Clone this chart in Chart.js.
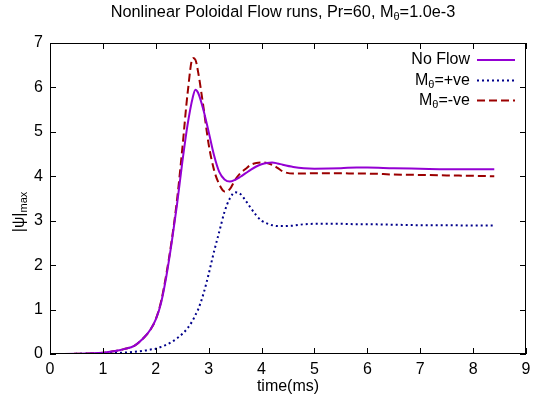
<!DOCTYPE html>
<html>
<head>
<meta charset="utf-8">
<script src="https://cdn.jsdelivr.net/npm/chart.js@4"></script>
<style>
  body { margin: 0; background: #fff; }
  #wrap { width: 533px; height: 400px; }
</style>
</head>
<body>
<div id="wrap"><canvas id="c" width="533" height="400"></canvas></div>
<script>
// time (ms)
const time = [0, 0.5, 1.0, 1.2, 1.4, 1.6, 1.8, 1.9,
  2.0, 2.1, 2.2, 2.3, 2.4, 2.5, 2.6, 2.7, 2.75, 2.8,
  2.9, 3.0, 3.1, 3.2, 3.3, 3.4, 3.5, 3.6, 3.7, 3.8, 3.9, 4.0, 4.1, 4.2, 4.3, 4.4,
  4.6, 4.8, 5.0, 5.5, 5.8, 6.0, 6.5, 7.0, 7.5, 8.0, 8.4];

const noFlow = [0, 0.005, 0.03, 0.06, 0.11, 0.19, 0.4, 0.55,
  0.78, 1.15, 1.75, 2.5, 3.35, 4.3, 5.15, 5.78, 5.95, 5.88,
  5.5, 5.0, 4.48, 4.1, 3.93, 3.88, 3.92, 3.99, 4.07, 4.15, 4.22, 4.27, 4.3, 4.31, 4.29, 4.26,
  4.21, 4.18, 4.17, 4.18, 4.2, 4.2, 4.18, 4.17, 4.16, 4.16, 4.16];

const flowPos = [0, 0.003, 0.01, 0.02, 0.03, 0.05, 0.08, 0.1,
  0.12, 0.16, 0.21, 0.27, 0.35, 0.45, 0.58, 0.76, 0.88, 1.0,
  1.35, 1.8, 2.3, 2.75, 3.2, 3.5, 3.64, 3.6, 3.45, 3.28, 3.12, 3.0, 2.94, 2.9, 2.88, 2.88,
  2.89, 2.92, 2.93, 2.93, 2.92, 2.92, 2.91, 2.9, 2.9, 2.89, 2.89];

const flowNeg = [0, 0.005, 0.03, 0.06, 0.11, 0.19, 0.4, 0.55,
  0.78, 1.18, 1.8, 2.55, 3.45, 4.6, 5.85, 6.66, 6.62, 6.35,
  5.57, 4.72, 4.15, 3.82, 3.66, 3.71, 3.92, 4.07, 4.17, 4.26, 4.3, 4.31, 4.3, 4.26, 4.19, 4.11,
  4.06, 4.06, 4.07, 4.07, 4.06, 4.06, 4.04, 4.03, 4.02, 4.01, 4.0];

const xTicks = [0, 1, 2, 3, 4, 5, 6, 7, 8, 9];
const yTicks = [0, 1, 2, 3, 4, 5, 6, 7];

const FONT = "'Liberation Sans', Arial, sans-serif";

const pts = (ys) => ys.map((y, i) => ({ x: time[i], y }));

const series = [
  { label: [['No Flow']], data: noFlow, color: '#9400d3', dash: [] },
  { label: [['M'], ['θ', 1], ['=+ve']], data: flowPos, color: '#00008b', dash: [2, 3] },
  { label: [['M'], ['θ', 1], ['=-ve']], data: flowNeg, color: '#9b0000', dash: [8, 4] },
];

// draw text made of parts, second item of a part = subscript
function richText(ctx, parts, x, y, align, size) {
  const big = size + 'px ' + FONT, small = Math.round(size * 0.7) + 'px ' + FONT;
  let w = 0;
  parts.forEach(p => { ctx.font = p[1] ? small : big; w += ctx.measureText(p[0]).width; });
  let cx = align === 'right' ? x - w : align === 'center' ? x - w / 2 : x;
  ctx.textAlign = 'left';
  ctx.textBaseline = 'middle';
  parts.forEach(p => {
    ctx.font = p[1] ? small : big;
    ctx.fillText(p[0], cx, p[1] ? y + 4 : y);
    cx += ctx.measureText(p[0]).width;
  });
}

const decor = {
  id: 'decor',
  afterDatasetsDraw(chart) {
    const { ctx, chartArea: a, scales } = chart;
    ctx.save();
    ctx.strokeStyle = '#000';
    ctx.lineWidth = 1;
    ctx.strokeRect(a.left + 0.5, a.top + 0.5, a.right - a.left - 1, a.bottom - a.top - 1);
    ctx.beginPath();
    xTicks.forEach(v => {
      const px = Math.round(scales.x.getPixelForValue(v)) + 0.5;
      ctx.moveTo(px, a.bottom); ctx.lineTo(px, a.bottom - 6);
      ctx.moveTo(px, a.top); ctx.lineTo(px, a.top + 6);
    });
    yTicks.forEach(v => {
      const py = Math.round(scales.y.getPixelForValue(v)) + 0.5;
      ctx.moveTo(a.left, py); ctx.lineTo(a.left + 6, py);
      ctx.moveTo(a.right, py); ctx.lineTo(a.right - 6, py);
    });
    ctx.stroke();

    ctx.fillStyle = '#000';
    // title
    richText(ctx, [['Nonlinear Poloidal Flow runs, Pr=60, M'], ['θ', 1], ['=1.0e-3']], 283, 13, 'center', 16.3);
    // x title
    richText(ctx, [['time(ms)']], (a.left + a.right) / 2, 387, 'center', 16);
    // y title
    ctx.save();
    ctx.translate(20, 212);
    ctx.rotate(-Math.PI / 2);
    richText(ctx, [['|ψ|'], ['max', 1]], 0, 0, 'center', 16);
    ctx.restore();

    // legend
    const rows = [60, 80.5, 100.5];
    series.forEach((s, i) => {
      ctx.fillStyle = '#000';
      richText(ctx, s.label, 470, rows[i], 'right', 16);
      ctx.strokeStyle = s.color;
      ctx.lineWidth = 2;
      ctx.setLineDash(s.dash);
      ctx.beginPath();
      ctx.moveTo(477, rows[i]);
      ctx.lineTo(515, rows[i]);
      ctx.stroke();
      ctx.setLineDash([]);
    });
    ctx.restore();
  }
};

new Chart(document.getElementById('c'), {
  type: 'line',
  data: {
    datasets: series.map(s => ({
      label: s.label.map(p => p[0]).join(''),
      data: pts(s.data),
      borderColor: s.color,
      borderWidth: 2,
      borderDash: s.dash,
      pointRadius: 0,
      fill: false,
      cubicInterpolationMode: 'monotone',
    }))
  },
  options: {
    responsive: false,
    animation: false,
    layout: { padding: { top: 43, right: 7, left: 0, bottom: 0 } },
    plugins: { legend: { display: false }, title: { display: false }, tooltip: { enabled: false } },
    scales: {
      x: {
        type: 'linear', min: 0, max: 9,
        afterBuildTicks: (sc) => { sc.ticks = xTicks.map(v => ({ value: v })); },
        afterFit: (sc) => { sc.height = 46; sc.paddingLeft = 0; sc.paddingRight = 0; },
        grid: { display: false, drawTicks: false }, border: { display: false },
        ticks: { color: '#000', padding: 6, maxRotation: 0, font: { size: 16, family: FONT } },
      },
      y: {
        min: 0, max: 7,
        afterBuildTicks: (sc) => { sc.ticks = yTicks.map(v => ({ value: v })); },
        afterFit: (sc) => { sc.width = 50; sc.paddingTop = 0; sc.paddingBottom = 0; },
        grid: { display: false, drawTicks: false }, border: { display: false },
        ticks: { color: '#000', padding: 7, font: { size: 16, family: FONT } },
      }
    }
  },
  plugins: [decor]
});
</script>
</body>
</html>
